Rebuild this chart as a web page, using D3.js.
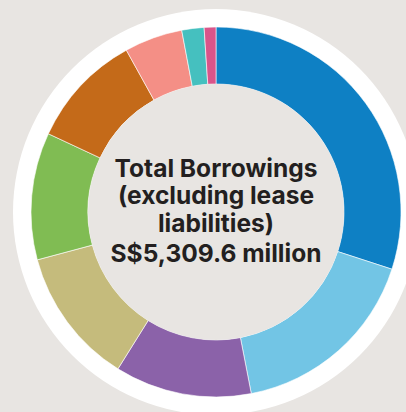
<!DOCTYPE html>
<html>
<head>
<meta charset="utf-8">
<script src="https://cdn.jsdelivr.net/npm/d3@7"></script>
<style>
html,body{margin:0;padding:0;background:#e8e5e2;overflow:hidden;}
svg{display:block;}
</style>
</head>
<body>
<svg id="chart" width="406" height="412"></svg>
<script>
// Borrowing components (S$ million), order clockwise from 12 o'clock
const categories = ["A","B","C","D","E","F","G","H","I"];
const values = [1593.0, 899.7, 634.2, 634.2, 590.0, 531.0, 269.9, 103.2, 54.4];
const colors = ["#0e80c4","#72c5e5","#8b62a9","#c5bb7c","#80bc53","#c46a19","#f48f86","#45c0bf","#d9558a"];
const centerLines = ["Total Borrowings","(excluding lease","liabilities)","S$5,309.6 million"];

const svg = d3.select("#chart");
const cx = 216, cy = 212;
const rWhite = 203, rOuter = 185, rInner = 128;

const g = svg.append("g").attr("transform", `translate(${cx},${cy})`);

g.append("circle").attr("r", rWhite).attr("fill", "#ffffff");

const pie = d3.pie().sort(null).value(d => d.v);
const arc = d3.arc().innerRadius(rInner).outerRadius(rOuter);
const data = pie(categories.map((c, i) => ({c, v: values[i], col: colors[i]})));

g.selectAll("path.slice").data(data).join("path")
  .attr("class", "slice")
  .attr("d", arc)
  .attr("fill", d => d.data.col)
  .attr("stroke", "#ffffff")
  .attr("stroke-width", 0.6);

g.append("circle").attr("r", rInner).attr("fill", "#e8e5e2");

const baselines = [-35, -8, 20, 50];
const t = g.selectAll("text.center").data(centerLines).join("text")
  .attr("class", "center")
  .attr("x", 0)
  .attr("y", (d, i) => baselines[i])
  .attr("text-anchor", "middle")
  .attr("fill", "#231f20")
  .attr("font-family", "Inter, 'Open Sans', sans-serif")
  .attr("font-weight", 700)
  .attr("font-size", 23)
  .text(d => d);

// scale font so first line matches target width
const w = t.nodes()[0].getComputedTextLength();
const fs = Math.min(25, 23 * 203 / w);
t.attr("font-size", fs);
</script>
</body>
</html>
